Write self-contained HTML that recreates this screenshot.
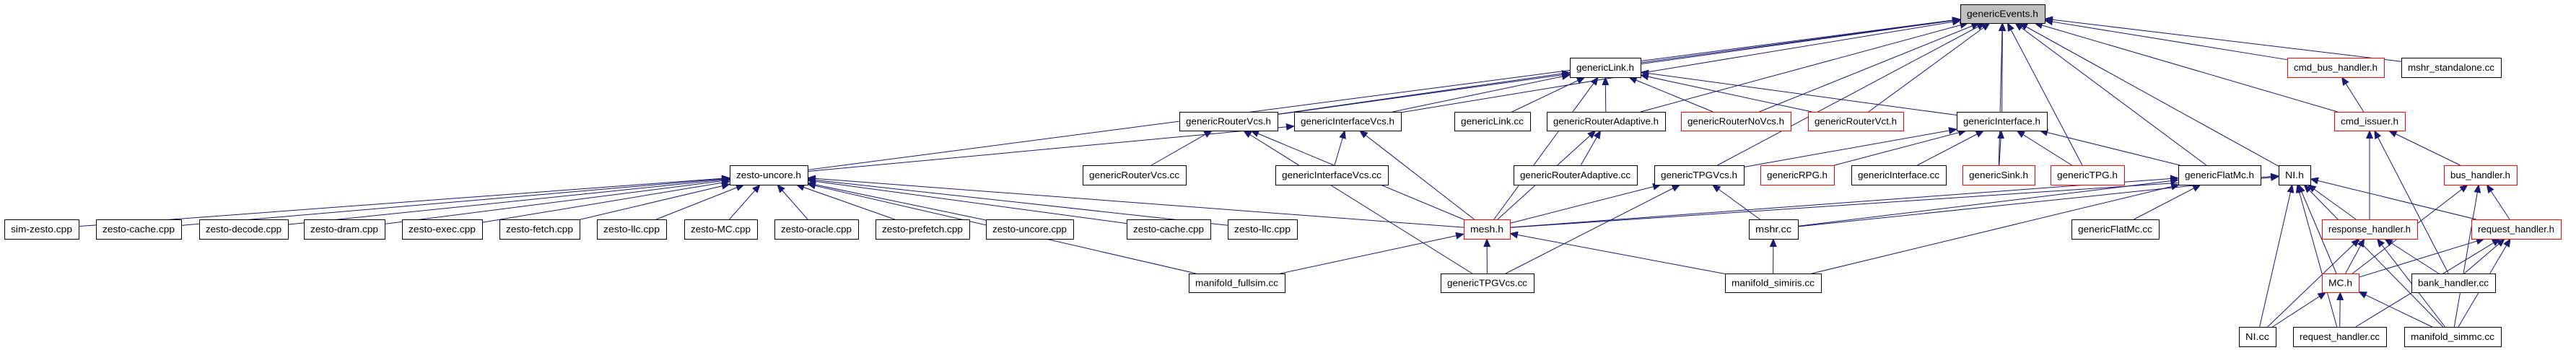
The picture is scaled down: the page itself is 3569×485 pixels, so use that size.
<!DOCTYPE html>
<html><head><meta charset="utf-8">
<style>
html,body{margin:0;padding:0;background:#fff;}
svg{display:block;}
text{font-family:"Liberation Sans",sans-serif;font-size:13px;fill:#000;}
</style></head>
<body>
<svg id="g" width="3569" height="485" xmlns="http://www.w3.org/2000/svg">
<defs><marker id="a" markerWidth="12" markerHeight="10" refX="11" refY="5" orient="auto" markerUnits="userSpaceOnUse"><path d="M0,0 L12,5 L0,10 z" fill="#191970"/></marker></defs>
<g id="E"></g><g id="N"></g>
</svg>
<script>
var R=[[6,32],[80,107],[155,181],[229,256],[304,331],[379,405],[453,480]];
var n={
ge:[2716,2833,0,'genericEvents.h','g'],
gl:[2175,2273,1,'genericLink.h'],cbh:[3169,3303,1,'cmd_bus_handler.h','r'],ms:[3327,3465,1,'mshr_standalone.cc'],
grv:[1634,1770,2,'genericRouterVcs.h'],giv:[1793,1941,2,'genericInterfaceVcs.h'],glc:[2015,2120,2,'genericLink.cc'],
gra:[2143,2307,2,'genericRouterAdaptive.h'],grn:[2329,2481,2,'genericRouterNoVcs.h','r'],grt:[2505,2637,2,'genericRouterVct.h','r'],
gi:[2711,2836,2,'genericInterface.h'],ci:[3234,3332,2,'cmd_issuer.h','r'],
zu:[1011,1119,3,'zesto-uncore.h'],grvc:[1500,1643,3,'genericRouterVcs.cc'],givc:[1767,1923,3,'genericInterfaceVcs.cc'],
grac:[2097,2268,3,'genericRouterAdaptive.cc'],gtv:[2292,2416,3,'genericTPGVcs.h'],grpg:[2439,2541,3,'genericRPG.h','r'],
gic:[2565,2696,3,'genericInterface.cc'],gs:[2719,2819,3,'genericSink.h','r'],gt:[2841,2943,3,'genericTPG.h','r'],
gfm:[3018,3132,3,'genericFlatMc.h'],ni:[3157,3201,3,'NI.h'],bus:[3386,3487,3,'bus_handler.h','r'],
z1:[6,109,4,'sim-zesto.cpp'],z2:[133,251,4,'zesto-cache.cpp'],z3:[276,399,4,'zesto-decode.cpp'],z4:[421,533,4,'zesto-dram.cpp'],
z5:[557,668,4,'zesto-exec.cpp'],z6:[692,803,4,'zesto-fetch.cpp'],z7:[827,923,4,'zesto-llc.cpp'],z8:[948,1049,4,'zesto-MC.cpp'],
z9:[1073,1189,4,'zesto-oracle.cpp'],z10:[1213,1343,4,'zesto-prefetch.cpp'],z11:[1366,1487,4,'zesto-uncore.cpp'],
z12:[1561,1677,4,'zesto-cache.cpp'],z13:[1701,1797,4,'zesto-llc.cpp'],
mesh:[2028,2092,4,'mesh.h','r'],mshr:[2423,2491,4,'mshr.cc'],gfmc:[2870,2991,4,'genericFlatMc.cc'],
resp:[3217,3349,4,'response_handler.h','r'],req:[3424,3548,4,'request_handler.h','r'],
mf:[1647,1780,5,'manifold_fullsim.cc'],gtvc:[1996,2125,5,'genericTPGVcs.cc'],msi:[2390,2523,5,'manifold_simiris.cc'],
mc:[3217,3268,5,'MC.h','r'],bank:[3341,3457,5,'bank_handler.cc'],
nicc:[3102,3153,6,'NI.cc'],rhc:[3177,3306,6,'request_handler.cc'],mm:[3331,3465,6,'manifold_simmc.cc']};
var e={
ge:'zu grv giv gl gra grn grt gi gtv gs gt gfm ni cbh ms ci',
gl:'grv giv glc gra grn grt gi mesh',
giv:'zu givc mesh',grv:'grvc mesh gtvc',
zu:'z1 z2 z3 z4 z5 z6 z7 z8 z9 z10 z11 z12 z13 mf mesh',
gra:'mesh grac',gi:'gtv grpg gic gs gt gfm',gtv:'mesh gtvc mshr',
mesh:'gtvc mf msi',mshr:'msi',gfm:'mesh mshr gfmc msi',
ni:'mesh mshr nicc rhc mm mc resp req',cbh:'ci',ci:'resp bus bank',
bus:'req mc mm',resp:'mc nicc bank mm',req:'mc bank rhc mm',mc:'nicc rhc mm'};
var NS='http://www.w3.org/2000/svg';
function box(k){var b=n[k];return {x1:b[0],x2:b[1],y1:R[b[2]][0],y2:R[b[2]][1],cx:(b[0]+b[1])/2,cy:(R[b[2]][0]+R[b[2]][1])/2};}
function clip(b,px,py){// point on boundary of b toward (px,py)
 var dx=px-b.cx,dy=py-b.cy,hw=(b.x2-b.x1)/2,hh=(b.y2-b.y1)/2;
 var t=Math.min(dx?hw/Math.abs(dx):1e9,dy?hh/Math.abs(dy):1e9);
 return [b.cx+dx*t,b.cy+dy*t];}
var E=document.getElementById('E'),N=document.getElementById('N');
for(var t in e){e[t].split(' ').forEach(function(s){
 var A=box(s),B=box(t);
 var p=clip(A,B.cx,B.cy),q=clip(B,A.cx,A.cy);
 var l=document.createElementNS(NS,'line');
 l.setAttribute('x1',p[0]);l.setAttribute('y1',p[1]);l.setAttribute('x2',q[0]);l.setAttribute('y2',q[1]);
 l.setAttribute('stroke','#191970');l.setAttribute('stroke-width','1');l.setAttribute('marker-end','url(#a)');
 E.appendChild(l);});}
for(var k in n){var b=box(k),c=n[k][4];
 var r=document.createElementNS(NS,'rect');
 r.setAttribute('x',b.x1+0.5);r.setAttribute('y',b.y1+0.5);r.setAttribute('width',b.x2-b.x1);r.setAttribute('height',b.y2-b.y1);
 r.setAttribute('fill',c=='g'?'#bfbfbf':'#fff');r.setAttribute('stroke',c=='r'?'#ff0000':'#000');
 N.appendChild(r);
 var tx=document.createElementNS(NS,'text');
 tx.setAttribute('x',b.cx);tx.setAttribute('y',b.cy+4.5);tx.setAttribute('text-anchor','middle');
 tx.setAttribute('textLength',(b.x2-b.x1)-18);tx.setAttribute('lengthAdjust','spacingAndGlyphs');
 tx.textContent=n[k][3];N.appendChild(tx);}
</script>
</body></html>
